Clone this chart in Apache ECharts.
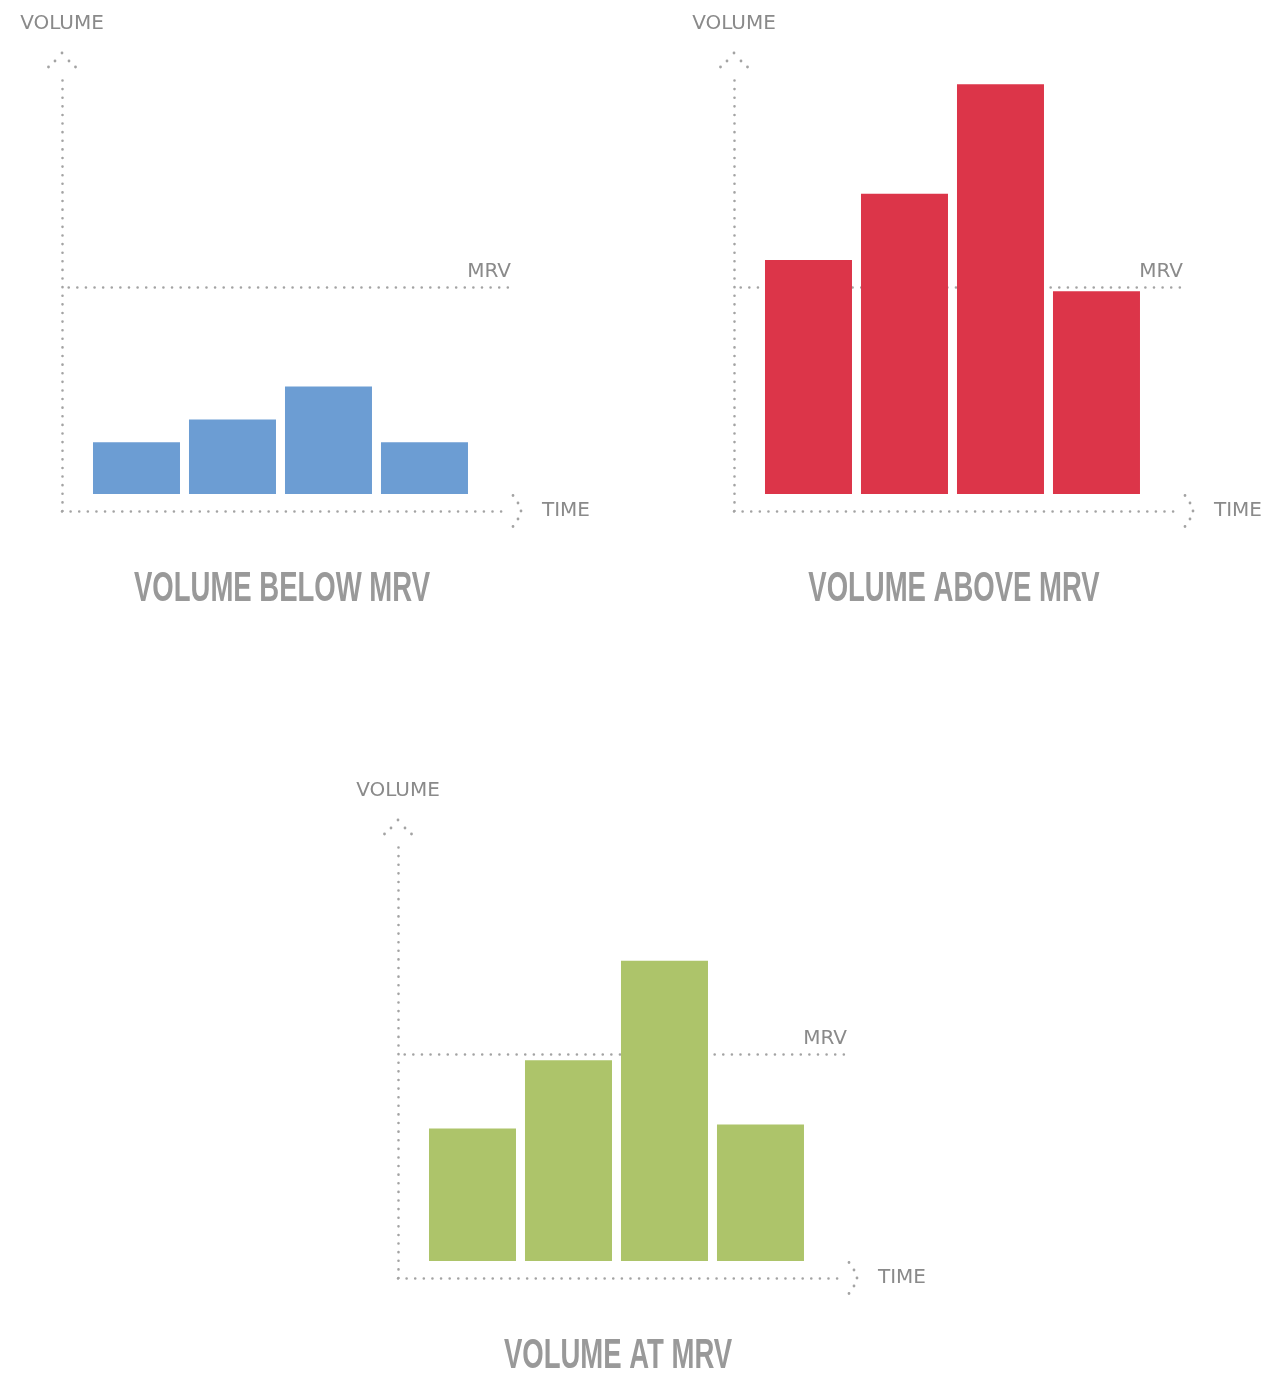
<!DOCTYPE html>
<html>
<head>
<meta charset="utf-8">
<script src="https://cdn.jsdelivr.net/npm/echarts@6/dist/echarts.min.js"></script>
<style>
  html, body { margin: 0; padding: 0; background: #ffffff; }
  #chart { width: 1271px; height: 1383px; }
</style>
</head>
<body>
<div id="chart"></div>
<script>
// ---- data ----
const timeSlots = [0, 1, 2, 3];
const belowValues = [25, 36, 52, 25];
const aboveValues = [113, 145, 198, 98];
const atValues = [64, 97, 145, 66];
const mrvLevel = 100;
const panelTitles = ['VOLUME BELOW MRV', 'VOLUME ABOVE MRV', 'VOLUME AT MRV'];
const yAxisName = 'VOLUME';
const xAxisName = 'TIME';
const mrvLabel = 'MRV';

// ---- styling / layout ----
const colors = ['#6c9dd3', '#dc3549', '#adc46a'];
const panelValues = [belowValues, aboveValues, atValues];
const panelPos = [
  { left: 62, top: 80 },
  { left: 734, top: 80 },
  { left: 398, top: 847 }
];
const GRID_W = 446, GRID_H = 431;
const dotColor = '#a3a3a3';
const textColor = '#8a8a8a';
const labelFont = { color: textColor, fontSize: 20, fontFamily: 'DejaVu Sans' };
const dotted = { color: dotColor, width: 2.6, type: [0.01, 8.6], cap: 'round' };
const mrvDotted = { color: dotColor, width: 2.6, type: [0.01, 8.6], cap: 'round', dashOffset: 1.9 };

function dots(pts, r) {
  return pts.map(p => 'M' + (p[0] - r) + ' ' + p[1] +
    ' a' + r + ' ' + r + ' 0 1 0 ' + (2 * r) + ' 0' +
    ' a' + r + ' ' + r + ' 0 1 0 ' + (-2 * r) + ' 0 Z').join(' ');
}
const upArrow = 'path://' + dots([[13.5, 0], [6.5, 8], [20.5, 8], [0, 14], [27, 14]], 1.4);
const rightArrow = 'path://' + dots([[15.5, 0], [7.5, 3], [23.5, 3], [0, 8], [31, 8]], 1.4);

const grids = [], xAxes = [], yAxes = [], series = [], graphics = [];
panelPos.forEach((p, i) => {
  grids.push({ left: p.left, top: p.top, width: GRID_W, height: GRID_H,
    containLabel: false, outerBoundsMode: 'none' });
  xAxes.push({
    type: 'value', gridIndex: i, min: -0.776, max: 3.87,
    splitLine: { show: false }, axisTick: { show: false }, axisLabel: { show: false },
    axisLine: { show: true, onZero: false, lineStyle: dotted,
      symbol: ['none', rightArrow], symbolSize: [33.8, 10.8], symbolOffset: [0, 9] },
    name: xAxisName, nameLocation: 'end', nameGap: 34,
    nameTextStyle: Object.assign({ align: 'left', verticalAlign: 'middle' }, labelFont)
  });
  yAxes.push({
    type: 'value', gridIndex: i, min: -8.2, max: 200,
    splitLine: { show: false }, axisTick: { show: false }, axisLabel: { show: false },
    axisLine: { show: true, onZero: false, lineStyle: dotted,
      symbol: ['none', upArrow], symbolSize: [29.8, 16.8], symbolOffset: [0, 20] },
    name: yAxisName, nameLocation: 'end', nameGap: 46,
    nameTextStyle: Object.assign({ align: 'center' }, labelFont)
  });
  series.push({
    type: 'bar', xAxisIndex: i, yAxisIndex: i, z: 3,
    barWidth: 87,
    data: timeSlots.map((t, k) => [t, panelValues[i][k]]),
    itemStyle: { color: colors[i] },
    markLine: {
      z: 1, silent: true, symbol: 'none', animation: false,
      lineStyle: mrvDotted,
      label: Object.assign({ show: true, position: 'insideEndTop', formatter: mrvLabel,
        distance: [-3, 5] }, labelFont),
      emphasis: { disabled: true },
      data: [{ yAxis: mrvLevel }]
    }
  });
  graphics.push({
    type: 'text', x: p.left + 220, y: p.top + 509, scaleX: 0.655, silent: true,
    style: { text: panelTitles[i], fill: '#999999', fontSize: 42, fontWeight: 'bold',
      fontFamily: "'Liberation Sans Narrow', 'Liberation Sans', sans-serif",
      align: 'center', verticalAlign: 'middle' }
  });
});

const chart = echarts.init(document.getElementById('chart'), null, { renderer: 'canvas' });
chart.setOption({
  animation: false,
  backgroundColor: '#ffffff',
  grid: grids, xAxis: xAxes, yAxis: yAxes, series: series,
  graphic: graphics
});
</script>
</body>
</html>
